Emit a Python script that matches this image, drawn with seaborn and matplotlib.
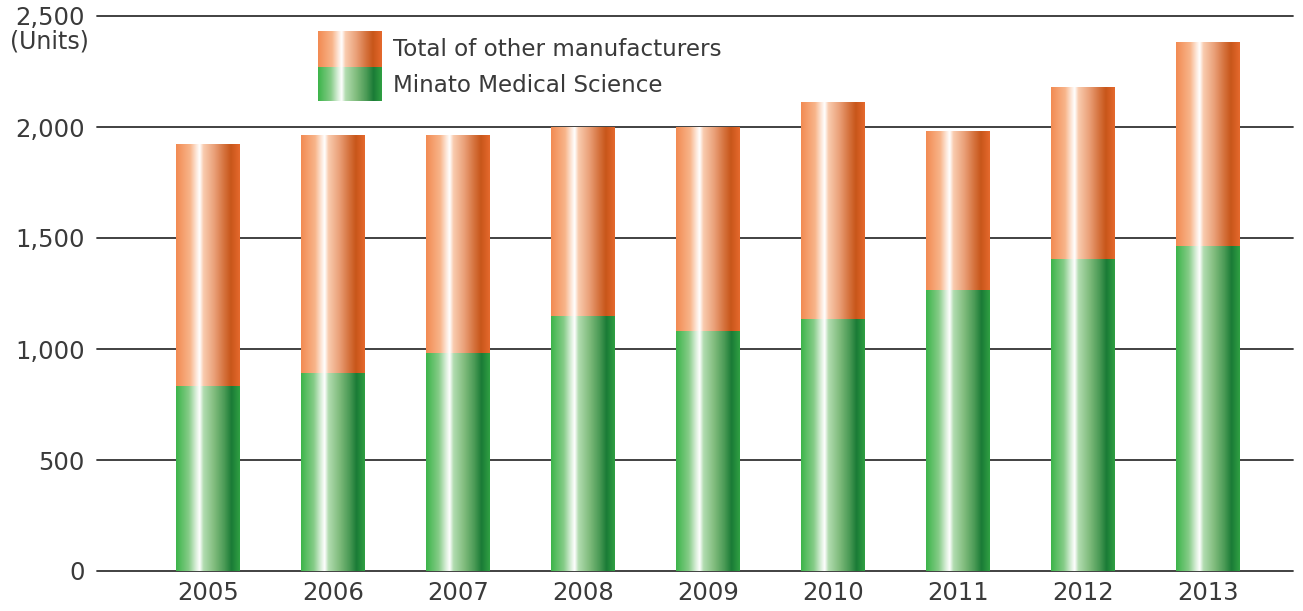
import numpy as np
import pandas as pd
import matplotlib
matplotlib.use('Agg')
import matplotlib.pyplot as plt
from matplotlib.colors import LinearSegmentedColormap
import seaborn as sns

# data
years = ['2005', '2006', '2007', '2008', '2009', '2010', '2011', '2012', '2013']
minato = [830, 890, 980, 1145, 1080, 1135, 1262, 1405, 1460]
total = [1920, 1960, 1960, 2000, 2000, 2110, 1980, 2180, 2380]
yticks = [0, 500, 1000, 1500, 2000, 2500]
ytick_labels = ['0', '500', '1,000', '1,500', '2,000', '2,500']
label_other = 'Total of other manufacturers'
label_minato = 'Minato Medical Science'

df = pd.DataFrame({'year': years, 'minato': minato, 'total': total})

text_col = '#3a3a3a'
orange_cmap = LinearSegmentedColormap.from_list('orange_grad', [
    (0.00, '#F28A52'), (0.22, '#F8B48A'), (0.31, '#FDE3D2'), (0.37, '#FFFFFF'),
    (0.43, '#F9CBAE'), (0.60, '#EAA078'), (0.76, '#D4703B'), (0.86, '#C8561A'),
    (1.00, '#E5692D')])
green_cmap = LinearSegmentedColormap.from_list('green_grad', [
    (0.00, '#3CB44A'), (0.20, '#86CC88'), (0.31, '#D8EED8'), (0.37, '#FFFFFF'),
    (0.43, '#B2DCB0'), (0.60, '#80BC7D'), (0.76, '#4A9A55'), (0.87, '#1A7B36'),
    (1.00, '#30A043')])

sns.set_theme(style='white')
plt.rcParams['font.family'] = ['DejaVu Sans']

fig = plt.figure(figsize=(13.03, 6.11), dpi=100)
ax = fig.add_axes([97 / 1303, 40 / 611, 1196 / 1303, 555 / 611])

bar_w = 0.512
sns.barplot(data=df, x='year', y='total', ax=ax, width=bar_w, color='#E5692D', saturation=1)
n_top = len(ax.patches)
sns.barplot(data=df, x='year', y='minato', ax=ax, width=bar_w, color='#3CB44A', saturation=1)

grad = np.linspace(0, 1, 256).reshape(1, -1)
for i, p in enumerate(ax.patches):
    cmap = orange_cmap if i < n_top else green_cmap
    x0, y0 = p.get_x(), p.get_y()
    w, h = p.get_width(), p.get_height()
    ax.imshow(grad, cmap=cmap, aspect='auto', extent=[x0, x0 + w, y0, y0 + h],
              zorder=3 if i >= n_top else 2, interpolation='bilinear')
    p.set_visible(False)

for yv in yticks:
    ax.axhline(yv, color='#333333', lw=1.3, zorder=1, clip_on=False)

ax.set_xlim(-0.888, 8.68)
ax.set_ylim(0, 2500)
ax.set_yticks(yticks)
ax.set_yticklabels(ytick_labels)
ax.set_xlabel('')
ax.set_ylabel('')
for s in ax.spines.values():
    s.set_visible(False)
ax.tick_params(axis='both', length=0, labelsize=17.5, labelcolor=text_col)
ax.tick_params(axis='y', pad=9)
ax.tick_params(axis='x', pad=7)

fig.text(89 / 1303, 1 - 42 / 611, '(Units)', ha='right', va='center',
         fontsize=17, color=text_col)

# legend drawn by hand so the swatches carry the same gradient
leg_o = fig.add_axes([318 / 1303, 1 - 67 / 611, 64 / 1303, 36 / 611])
leg_o.imshow(grad, cmap=orange_cmap, aspect='auto', interpolation='bilinear')
leg_o.axis('off')
leg_g = fig.add_axes([318 / 1303, 1 - 101 / 611, 64 / 1303, 34 / 611])
leg_g.imshow(grad, cmap=green_cmap, aspect='auto', interpolation='bilinear')
leg_g.axis('off')
fig.text(393 / 1303, 1 - 50 / 611, label_other, ha='left', va='center',
         fontsize=16.6, color=text_col)
fig.text(393 / 1303, 1 - 85 / 611, label_minato, ha='left', va='center',
         fontsize=16.6, color=text_col)

fig.savefig('out.png', dpi=100)
